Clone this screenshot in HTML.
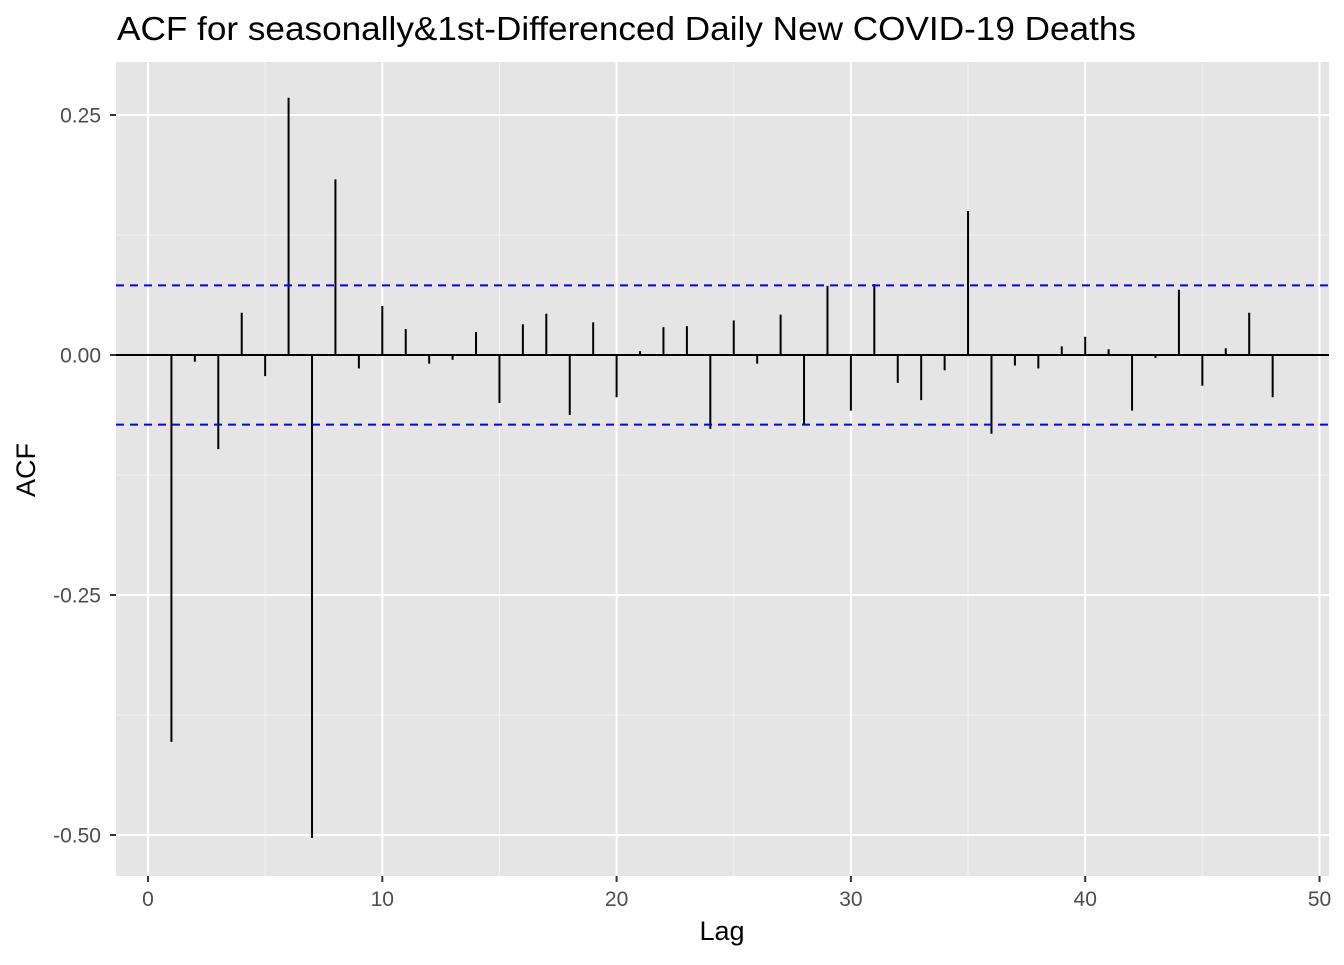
<!DOCTYPE html>
<html><head><meta charset="utf-8"><style>
body{margin:0;background:#fff;font-family:"Liberation Sans",Arial,sans-serif}
</style></head><body>
<svg id="chart" width="1344" height="960" xmlns="http://www.w3.org/2000/svg" font-family="Liberation Sans, Arial, sans-serif">
<rect x="116" y="62" width="1213" height="814" fill="#e5e5e5"/>
<text x="117" y="40" font-size="33" textLength="1019" lengthAdjust="spacingAndGlyphs" fill="#000">ACF for seasonally&amp;1st-Differenced Daily New COVID-19 Deaths</text>
<g id="grid"></g>
<g id="marks"></g>
<g id="axes"></g>
<text x="722" y="940" font-size="27" text-anchor="middle" fill="#000">Lag</text>
<text transform="translate(35,470) rotate(-90)" font-size="27" text-anchor="middle" fill="#000">ACF</text>
</svg>
<script>
const lags = [1,2,3,4,5,6,7,8,9,10,11,12,13,14,15,16,17,18,19,20,21,22,23,24,25,26,27,28,29,30,31,32,33,34,35,36,37,38,39,40,41,42,43,44,45,46,47,48];
const acfValues = [-0.403,-0.007,-0.098,0.044,-0.022,0.268,-0.503,0.183,-0.014,0.051,0.027,-0.009,-0.005,0.024,-0.05,0.032,0.043,-0.0625,0.034,-0.044,0.004,0.029,0.030,-0.077,0.036,-0.009,0.042,-0.072,0.072,-0.058,0.074,-0.029,-0.047,-0.016,0.15,-0.082,-0.011,-0.014,0.009,0.019,0.006,-0.058,-0.003,0.068,-0.032,0.007,0.044,-0.044];
const ciBound = [0.0725];
const xTicks = [0,10,20,30,40,50];
const yTicks = [0.25,0,-0.25,-0.5];
const yTickLabels = ["0.25","0.00","-0.25","-0.50"];
const xMinor = [5,15,25,35,45];
const yMinor = [0.125,-0.125,-0.375];

const PT=62, PB=876, PL=116, PR=1329;
const X = v => 148 + v*23.43;
const Y = v => 355 - v*960;
const NS = "http://www.w3.org/2000/svg";
function mk(tag, attrs, parent){const e=document.createElementNS(NS,tag);for(const k in attrs)e.setAttribute(k,attrs[k]);parent.appendChild(e);return e;}
const grid=document.getElementById('grid'), marks=document.getElementById('marks'), axes=document.getElementById('axes');
xMinor.forEach(v=>{const l=mk('line',{x1:X(v),x2:X(v),y1:PT,y2:PB,stroke:'#f2f2f2','stroke-width':1},grid);
});
yMinor.forEach(v=>{const l=mk('line',{x1:PL,x2:PR,y1:Y(v),y2:Y(v),stroke:'#f2f2f2','stroke-width':1},grid);
});
xTicks.forEach(v=>{const l=mk('line',{x1:X(v),x2:X(v),y1:PT,y2:PB,stroke:'#fff','stroke-width':2},grid);

const t=mk('line',{x1:X(v),x2:X(v),y1:PB,y2:PB+6,stroke:'#333','stroke-width':2},axes);

const tx=mk('text',{x:X(v),y:906,'font-size':21,'text-anchor':'middle',fill:'#4d4d4d'},axes);tx.textContent=v;
});
yTicks.forEach((v,i)=>{const l=mk('line',{x1:PL,x2:PR,y1:Y(v),y2:Y(v),stroke:'#fff','stroke-width':2},grid);

const t=mk('line',{x1:PL-6,x2:PL,y1:Y(v),y2:Y(v),stroke:'#333','stroke-width':2},axes);

const tx=mk('text',{x:101,y:Y(v)+7.5,'font-size':21,'text-anchor':'end',fill:'#4d4d4d'},axes);tx.textContent=yTickLabels[i];
});
const zl=mk('line',{x1:PL,x2:PR,y1:Y(0),y2:Y(0),stroke:'#000','stroke-width':2},marks);

lags.forEach((lag,i)=>{const b=mk('line',{x1:X(lag),x2:X(lag),y1:Y(0),y2:Y(acfValues[i]),stroke:'#000','stroke-width':2},marks);
});
[ciBound[0],-ciBound[0]].forEach(v=>{const d=mk('line',{x1:PL,x2:PR,y1:Y(v),y2:Y(v),stroke:'#0000ff','stroke-width':2,'stroke-dasharray':'8,6'},marks);
});
</script>
</body></html>
